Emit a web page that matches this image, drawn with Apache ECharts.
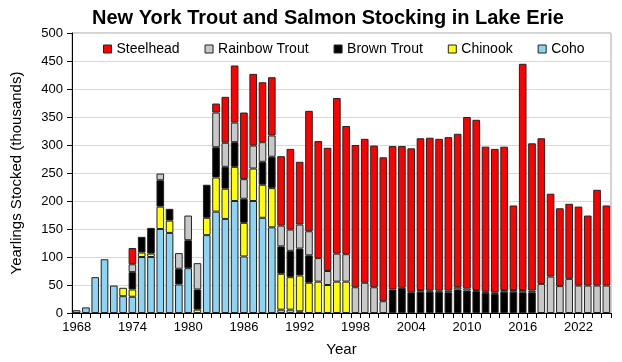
<!DOCTYPE html>
<html><head><meta charset="utf-8">
<script src="https://cdn.jsdelivr.net/npm/echarts@6/dist/echarts.min.js"></script>
<style>html,body{margin:0;padding:0;background:#fff}#c{width:622px;height:362px}</style>
</head><body><div id="c"></div>
<script>
const years = [];
for (let y = 1968; y <= 2025; y++) years.push(String(y));

const coho = [5,10,64,96,49,30,29,100,100,150,143,51,80,0,139,181,168,200,101,200,170,153,6,6,3,0,0,0,0,0,0,0,0,0,0,0,0,0,0,0,0,0,0,0,0,0,0,0,0,0,0,0,0,0,0,0,0,0];
const chinook = [0,0,0,0,0,15,13,8,6,40,22,0,0,6,31,61,54,61,60,58,59,70,64,58,64,54,56,50,56,56,0,0,0,0,0,0,0,0,0,0,0,0,0,0,0,0,0,0,0,0,0,0,0,0,0,0,0,0];
const brown = [0,0,0,0,0,0,31,28,46,47,21,28,50,36,59,54,39,44,43,0,41,56,49,47,48,49,0,0,0,0,0,0,0,0,42,45,37,38,38,38,37,42,40,39,36,34,38,38,37,37,0,0,0,0,0,0,0,0];
const rainbow = [0,0,0,0,0,0,14,0,0,12,0,28,44,47,0,62,43,35,35,41,35,38,37,38,43,43,42,25,50,49,46,54,46,21,0,0,0,3,2,2,3,4,4,2,2,3,3,3,4,3,52,65,48,61,49,49,49,49];
const steelhead = [0,0,0,0,0,0,29,0,0,0,0,0,0,0,0,16,82,102,119,128,107,104,124,144,112,215,209,220,278,229,254,257,253,257,256,253,257,271,273,271,274,274,306,304,259,256,256,151,404,263,260,148,139,134,141,125,171,143];

const names = ['Steelhead','Rainbow Trout','Brown Trout','Chinook','Coho'];
const colors = {'Steelhead':'#FF0000','Rainbow Trout':'#C8C8C8','Brown Trout':'#000000','Chinook':'#FFFF00','Coho':'#8DD3F3'};
const dataMap = {'Steelhead':steelhead,'Rainbow Trout':rainbow,'Brown Trout':brown,'Chinook':chinook,'Coho':coho};
const stackOrder = ['Coho','Chinook','Brown Trout','Rainbow Trout','Steelhead'];
const FONT = 'Liberation Sans, Arial, sans-serif';

const series = stackOrder.map(n => ({
  name: n, type: 'bar', stack: 'all', barWidth: '82%',
  data: dataMap[n].map(v => v === 0 ? '-' : v),
  itemStyle: {color: colors[n], borderColor: '#222', borderWidth: 1},
  emphasis: {disabled: true}
}));

const chart = echarts.init(document.getElementById('c'), null, {renderer: 'canvas'});
chart.setOption({
  animation: false,
  backgroundColor: '#fff',
  title: {text: 'New York Trout and Salmon Stocking in Lake Erie', left: 87, top: 3,
    textStyle: {fontFamily: FONT, fontSize: 20, fontWeight: 'bold', color: '#000'}},
  legend: {data: names.map(n => ({name: n, icon: 'rect', itemStyle: {color: colors[n], borderColor: '#222', borderWidth: 1}})),
    left: 98, top: 37, itemWidth: 8, itemHeight: 8, itemGap: 25,
    textStyle: {fontFamily: FONT, fontSize: 14, color: '#000'}},
  grid: {left: 72, right: 11, top: 33, bottom: 49, show: true, borderColor: '#A6A6A6', borderWidth: 1},
  xAxis: {type: 'category', data: years, boundaryGap: true,
    name: 'Year', nameLocation: 'middle', nameGap: 29,
    nameTextStyle: {fontFamily: FONT, fontSize: 15, color: '#000'},
    axisLine: {lineStyle: {color: '#000', width: 1}},
    axisTick: {show: true, interval: 0, length: 5, lineStyle: {color: '#000'}},
    axisLabel: {interval: 5, fontFamily: FONT, fontSize: 13, color: '#000', margin: 8}},
  yAxis: {type: 'value', min: 0, max: 500, interval: 50,
    name: 'Yearlings Stocked (thousands)', nameLocation: 'middle', nameGap: 48,
    nameTextStyle: {fontFamily: FONT, fontSize: 15, color: '#000'},
    axisLine: {show: true, lineStyle: {color: '#000', width: 1}},
    axisTick: {show: true, length: 5, lineStyle: {color: '#000'}},
    axisLabel: {fontFamily: FONT, fontSize: 13, color: '#000', margin: 9},
    splitLine: {lineStyle: {color: '#D9D9D9', width: 1}}},
  series: series
});
</script></body></html>
